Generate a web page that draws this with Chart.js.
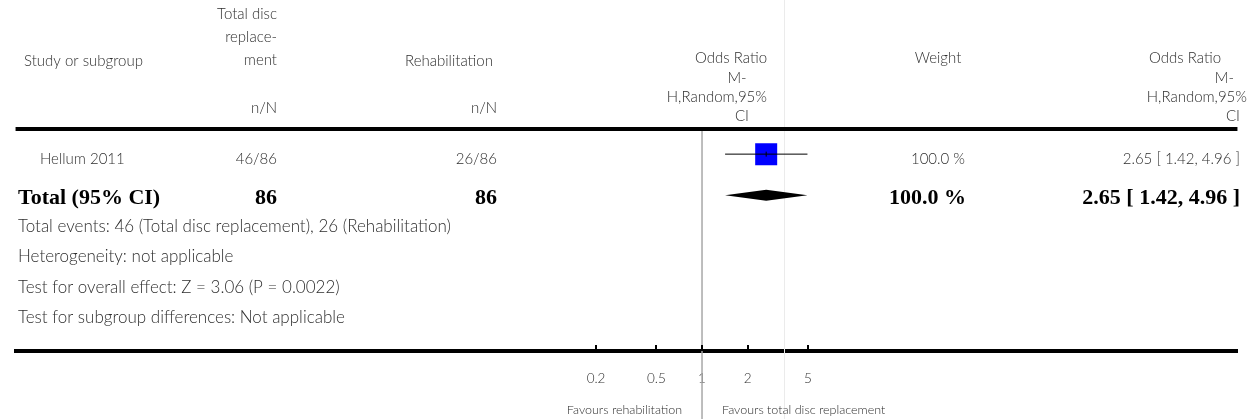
<!DOCTYPE html>
<html>
<head>
<meta charset="utf-8">
<script src="https://cdn.jsdelivr.net/npm/chart.js@4.4.1/dist/chart.umd.min.js"></script>
<style>
  html, body { margin: 0; padding: 0; background: #ffffff; }
  #wrap { position: relative; width: 1253px; height: 419px; }
</style>
</head>
<body>
<div id="wrap"><canvas id="c" width="1253" height="419"></canvas></div>
<script>
// ---------------- DATA ----------------
const studies = ['Hellum 2011'];
const eventsTreatment = [46];
const totalTreatment = [86];
const eventsControl = [26];
const totalControl = [86];
const oddsRatios = [2.65];
const ciLower = [1.42];
const ciUpper = [4.96];
const weights = [100.0];

const pooledOR = [2.65];
const pooledLower = [1.42];
const pooledUpper = [4.96];
const pooledWeight = [100.0];

const groupNames = ['Total disc replacement', 'Rehabilitation'];
const tickValues = [0.2, 0.5, 1, 2, 5];
const tickLabels = ['0.2', '0.5', '1', '2', '5'];

const headerStudy = 'Study or subgroup';
const headerTreatment = ['Total disc', 'replace-', 'ment'];
const headerControl = 'Rehabilitation';
const headerNN = 'n/N';
const headerOR = ['Odds Ratio', 'M-', 'H,Random,95%', 'CI'];
const headerWeight = 'Weight';
const totalLabel = 'Total (95% CI)';
const footerLines = [
  'Total events: ' + eventsTreatment.reduce((a, b) => a + b, 0) + ' (' + groupNames[0] + '), ' +
    eventsControl.reduce((a, b) => a + b, 0) + ' (' + groupNames[1] + ')',
  'Heterogeneity: not applicable',
  'Test for overall effect: Z = 3.06 (P = 0.0022)',
  'Test for subgroup differences: Not applicable'
];
const favoursLeft = 'Favours rehabilitation';
const favoursRight = 'Favours total disc replacement';

// ---------------- STYLE / LAYOUT ----------------
const SANS = 'Lato, "Open Sans", sans-serif';
const SERIF = '"Liberation Serif", "DejaVu Serif", serif';
const TXT = '#2e2e2e';
const fmt2 = v => v.toFixed(2);
const ciText = (o, l, u) => fmt2(o) + ' [ ' + fmt2(l) + ', ' + fmt2(u) + ' ]';
const sum = a => a.reduce((p, q) => p + q, 0);

const totalRow = studies.length;
const squareData = studies.map((s, i) => ({ x: oddsRatios[i], y: i }));
const maxSide = 22; // px side of square at 100% weight
const squareRadius = weights.map(w => (maxSide * Math.sqrt(w / 100)) / Math.SQRT2);

const whiskerSets = studies.map((s, i) => ({
  type: 'line',
  data: [{ x: ciLower[i], y: i }, { x: ciUpper[i], y: i }],
  borderColor: '#000',
  borderWidth: 1,
  pointRadius: 0,
  showLine: true
}));

// row pixel geometry
const ROW_STUDY_PX = 145;
const ROW_GAP_PX = 43;
const AREA_BOTTOM = 351;
const yMin = -ROW_STUDY_PX / ROW_GAP_PX;
const yMax = yMin + AREA_BOTTOM / ROW_GAP_PX;

// x mapping
const LEFT = 5, RIGHT = 1238, ONE_PX = 697.7, PX_PER_DECADE = 153;
const xMinLog = -(ONE_PX - LEFT) / PX_PER_DECADE;
const xMaxLog = xMinLog + (RIGHT - LEFT) / PX_PER_DECADE;

const tablePlugin = {
  id: 'forestTable',
  beforeDatasetsDraw(chart) {
    const ctx = chart.ctx;
    const xs = chart.scales.x;
    const ca = chart.chartArea;
    ctx.save();
    // faint vertical divider
    ctx.strokeStyle = '#ebebeb';
    ctx.lineWidth = 1;
    ctx.beginPath();
    ctx.moveTo(784.5, 0); ctx.lineTo(784.5, 419);
    ctx.stroke();
    // line of no effect
    const x1 = xs.getPixelForValue(1);
    ctx.strokeStyle = '#a8a8a8';
    ctx.lineWidth = 1.5;
    ctx.beginPath();
    ctx.moveTo(x1, 131); ctx.lineTo(x1, 419);
    ctx.stroke();
    // header rule
    ctx.fillStyle = '#000';
    ctx.fillRect(ca.left, 127, ca.right - ca.left, 4);
    // inward tick marks
    tickValues.forEach(v => {
      const px = xs.getPixelForValue(v);
      ctx.fillRect(Math.round(px) - 1, ca.bottom - 6, 2, 6);
    });
    ctx.restore();
  },
  afterDatasetsDraw(chart) {
    const ctx = chart.ctx;
    const xs = chart.scales.x, ys = chart.scales.y;
    ctx.save();
    // diamond for pooled estimate
    const yT = ys.getPixelForValue(totalRow);
    const xl = xs.getPixelForValue(pooledLower[0]);
    const xc = xs.getPixelForValue(pooledOR[0]);
    const xu = xs.getPixelForValue(pooledUpper[0]);
    ctx.fillStyle = '#000';
    ctx.beginPath();
    ctx.moveTo(xl, yT);
    ctx.lineTo(xc, yT - 5.5);
    ctx.lineTo(xu, yT);
    ctx.lineTo(xc, yT + 5.5);
    ctx.closePath();
    ctx.fill();
    ctx.restore();
  },
  afterDraw(chart) {
    const ctx = chart.ctx;
    const xs = chart.scales.x, ys = chart.scales.y;
    ctx.save();
    ctx.textBaseline = 'middle';
    ctx.fillStyle = TXT;
    ctx.font = '300 15px ' + SANS;

    // header
    ctx.textAlign = 'left';
    ctx.fillText(headerStudy, 24, 61);
    ctx.textAlign = 'right';
    [14, 37, 60].forEach((y, k) => ctx.fillText(headerTreatment[k], 277, y));
    ctx.fillText(headerNN, 277, 108);
    ctx.textAlign = 'center';
    ctx.fillText(headerControl, 449, 61);
    ctx.textAlign = 'right';
    ctx.fillText(headerNN, 497, 108);
    // middle OR header
    ctx.fillText(headerOR[0], 767, 58);
    ctx.textAlign = 'center';
    ctx.fillText(headerOR[1], 737, 78);
    ctx.textAlign = 'right';
    ctx.fillText(headerOR[2], 767, 97);
    ctx.textAlign = 'center';
    ctx.fillText(headerOR[3], 742, 116);
    ctx.fillText(headerWeight, 938, 58);
    ctx.textAlign = 'right';
    ctx.fillText(headerOR[0], 1221, 58);
    ctx.fillText(headerOR[1], 1234, 78);
    ctx.fillText(headerOR[2], 1247, 97);
    ctx.fillText(headerOR[3], 1240, 116);

    // study rows
    studies.forEach((s, i) => {
      const y = ys.getPixelForValue(i) + 5;
      ctx.textAlign = 'left';
      ctx.fillText(s, 40, y);
      ctx.textAlign = 'right';
      ctx.fillText(eventsTreatment[i] + '/' + totalTreatment[i], 277, y);
      ctx.fillText(eventsControl[i] + '/' + totalControl[i], 497, y);
      ctx.fillText(weights[i].toFixed(1) + ' %', 965, y);
      ctx.fillText(ciText(oddsRatios[i], ciLower[i], ciUpper[i]), 1240, y);
    });

    // total row
    const yT = ys.getPixelForValue(totalRow) + 3;
    ctx.font = 'bold 22px ' + SERIF;
    ctx.fillStyle = '#000';
    ctx.textAlign = 'left';
    ctx.fillText(totalLabel, 18, yT);
    ctx.textAlign = 'right';
    ctx.fillText(String(sum(totalTreatment)), 277, yT);
    ctx.fillText(String(sum(totalControl)), 497, yT);
    ctx.fillText(pooledWeight[0].toFixed(1) + ' %', 966, yT);
    ctx.fillText(ciText(pooledOR[0], pooledLower[0], pooledUpper[0]), 1240, yT);

    // footers
    ctx.font = '300 17px ' + SANS;
    ctx.fillStyle = TXT;
    ctx.textAlign = 'left';
    [227, 257, 288, 318].forEach((y, k) => ctx.fillText(footerLines[k], 18, y));

    // favours
    const x1 = xs.getPixelForValue(1);
    ctx.font = '300 12.5px ' + SANS;
    ctx.textAlign = 'right';
    ctx.fillText(favoursLeft, x1 - 20, 410);
    ctx.textAlign = 'left';
    ctx.fillText(favoursRight, x1 + 20, 410);
    ctx.restore();
  }
};

new Chart(document.getElementById('c'), {
  type: 'scatter',
  data: {
    datasets: [
      {
        type: 'scatter',
        data: squareData,
        pointStyle: 'line',
        rotation: 90,
        radius: 2.5,
        borderColor: '#000',
        borderWidth: 1
      },
      ...whiskerSets,
      {
        type: 'scatter',
        data: squareData,
        pointStyle: 'rect',
        radius: squareRadius,
        backgroundColor: '#0000ff',
        borderWidth: 0
      }
    ]
  },
  plugins: [tablePlugin],
  options: {
    responsive: false,
    animation: false,
    devicePixelRatio: 1,
    events: [],
    layout: { padding: { left: LEFT, right: 1253 - RIGHT, top: 0, bottom: 0 } },
    plugins: { legend: { display: false }, tooltip: { enabled: false } },
    scales: {
      x: {
        type: 'logarithmic',
        bounds: 'data',
        min: Math.pow(10, xMinLog),
        max: Math.pow(10, xMaxLog),
        afterBuildTicks: s => { s.ticks = tickValues.map(v => ({ value: v })); },
        afterFit: s => { s.height = 419 - AREA_BOTTOM; },
        grid: { display: true, drawOnChartArea: false, drawTicks: false },
        border: { display: true, color: '#000', width: 4 },
        ticks: {
          autoSkip: false,
          maxRotation: 0,
          padding: 20,
          color: TXT,
          font: { family: 'Lato', size: 13.5, weight: '300' },
          callback: (v, i) => tickLabels[i]
        }
      },
      y: {
        type: 'linear',
        display: false,
        reverse: true,
        min: yMin,
        max: yMax
      }
    }
  }
});
</script>
</body>
</html>
